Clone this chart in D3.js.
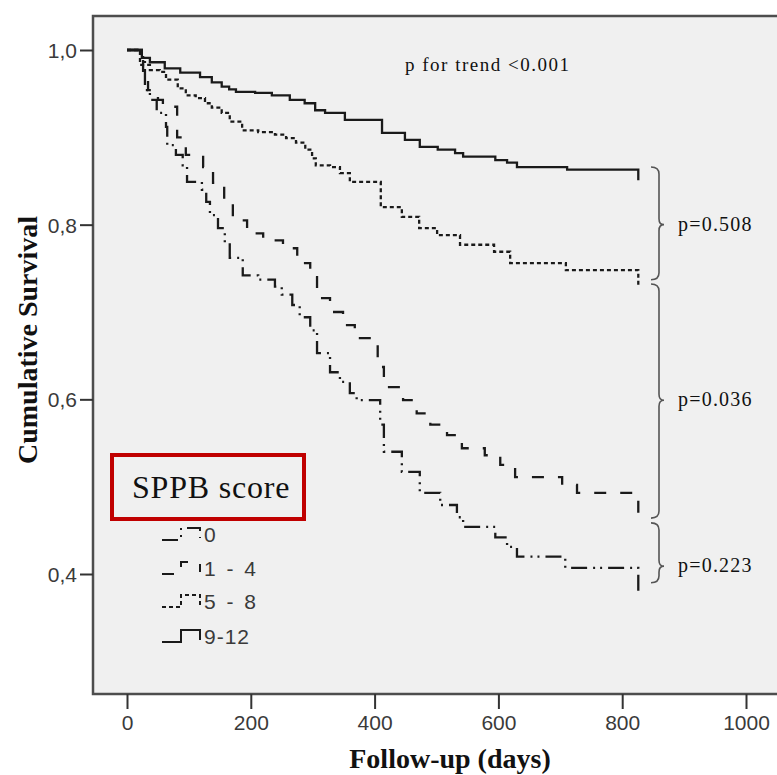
<!DOCTYPE html>
<html>
<head>
<meta charset="utf-8">
<script src="https://cdn.jsdelivr.net/npm/d3@7"></script>
<style>
  body { margin: 0; background: #fff; }
  svg { display: block; }
</style>
</head>
<body>
<svg class="chart" width="777" height="775"></svg>
<script>
// survival steps: [day, cumulative survival]
var sppb0 = [[0,1],[26,0.989],[29,0.954],[37,0.943],[48,0.928],[63,0.912],[65,0.891],[79,0.880],
  [90,0.868],[97,0.849],[121,0.840],[128,0.826],[134,0.811],[147,0.796],[158,0.779],[166,0.762],
  [187,0.742],[212,0.737],[239,0.729],[250,0.720],[267,0.708],[279,0.694],[296,0.679],[307,0.653],
  [328,0.631],[344,0.620],[360,0.607],[371,0.599],[409,0.571],[415,0.540],[444,0.517],[473,0.493],
  [506,0.479],[533,0.465],[543,0.454],[595,0.442],[614,0.431],[630,0.420],[708,0.407],[826,0.378]];
var sppb1to4 = [[0,1],[26,0.966],[34,0.954],[50,0.943],[58,0.935],[81,0.900],[95,0.880],[123,0.866],
  [139,0.848],[157,0.828],[171,0.805],[194,0.790],[220,0.782],[252,0.773],[275,0.756],[296,0.740],
  [307,0.716],[328,0.700],[349,0.685],[368,0.670],[405,0.637],[415,0.614],[446,0.599],[468,0.584],
  [490,0.571],[517,0.559],[541,0.544],[578,0.536],[603,0.525],[627,0.511],[703,0.502],[727,0.493],
  [826,0.464]];
var sppb5to8 = [[0,1],[21,0.983],[37,0.977],[53,0.975],[63,0.966],[82,0.956],[95,0.948],[111,0.945],
  [126,0.939],[137,0.934],[153,0.928],[166,0.918],[186,0.908],[212,0.906],[239,0.903],[257,0.899],
  [273,0.894],[288,0.886],[299,0.876],[305,0.868],[328,0.866],[344,0.859],[360,0.849],[410,0.820],
  [444,0.809],[472,0.796],[501,0.788],[538,0.777],[593,0.769],[619,0.756],[709,0.748],[826,0.731]];
var sppb9to12 = [[0,1],[24,0.991],[37,0.986],[61,0.979],[86,0.974],[118,0.969],[137,0.963],[153,0.958],
  [165,0.955],[176,0.952],[207,0.951],[234,0.948],[263,0.943],[287,0.939],[304,0.931],[320,0.928],
  [352,0.920],[412,0.905],[449,0.897],[473,0.889],[502,0.886],[530,0.882],[543,0.878],[595,0.874],
  [614,0.871],[630,0.866],[711,0.863],[826,0.851]];

var groupNames = ['0', '1 - 4', '5 - 8', '9-12'];
var xTicks = [0, 200, 400, 600, 800, 1000];
var yTicks = [0.4, 0.6, 0.8, 1.0];

// p-value braces: [top, point, bottom] survival values, label
var braceTops = [0.866, 0.732, 0.4585];
var braceMids = [0.800, 0.599, 0.409];
var braceBottoms = [0.737, 0.464, 0.390];
var braceLabels = ['p=0.508', 'p=0.036', 'p=0.223'];

var series = [sppb0, sppb1to4, sppb5to8, sppb9to12];
var dashes = ['16,6,2,5,2,6', '12,14', '4,3', null];

var frame = {left: 93, top: 16, bottom: 694, right: 790};

var xScale = d3.scaleLinear().domain([0, 1000]).range([127, 746]);
var yScale = d3.scaleLinear().domain([0.4, 1.0]).range([574, 50]);

var svg = d3.select('.chart');
var sans = '"Liberation Sans", Arial, sans-serif';
var serif = '"Liberation Serif", "Times New Roman", serif';

// plot area
svg.append('rect')
  .attr('x', frame.left).attr('y', frame.top)
  .attr('width', frame.right - frame.left).attr('height', frame.bottom - frame.top)
  .style('fill', '#f0f0f0')
  .style('stroke', '#4d4d4d')
  .style('stroke-width', 2.5);

// axes
var xAxis = d3.axisBottom(xScale).tickValues(xTicks).tickSize(15).tickSizeOuter(0)
  .tickFormat(d3.format('d'));
var yAxis = d3.axisLeft(yScale).tickValues(yTicks).tickSize(13).tickSizeOuter(0)
  .tickFormat(d => d3.format('.1f')(d).replace('.', ','));

svg.append('g')
  .attr('class', 'x-axis')
  .attr('transform', `translate(0,${frame.bottom})`)
  .call(xAxis)
  .call(g => g.select('.domain').remove())
  .call(g => g.selectAll('line').style('stroke', '#333').style('stroke-width', 2))
  .call(g => g.selectAll('text').attr('y', 21).attr('dy', '0.71em')
    .style('font-family', sans)
    .style('font-size', '21px').style('fill', '#3a3a3a'));

svg.append('g')
  .attr('class', 'y-axis')
  .attr('transform', `translate(${frame.left},0)`)
  .call(yAxis)
  .call(g => g.select('.domain').remove())
  .call(g => g.selectAll('line').style('stroke', '#333').style('stroke-width', 2))
  .call(g => g.selectAll('text').attr('x', -16).attr('dy', '0.36em')
    .style('font-family', sans)
    .style('font-size', '21px').style('fill', '#3a3a3a'));

// survival curves
var line = d3.line()
  .x(d => xScale(d[0]))
  .y(d => yScale(d[1]))
  .curve(d3.curveStepAfter);

svg.append('g')
  .attr('class', 'curves')
  .selectAll('path')
  .data(series)
  .join('path')
  .attr('d', line)
  .style('fill', 'none')
  .style('stroke', '#1a1a1a')
  .style('stroke-width', 2.3)
  .style('stroke-dasharray', (d, i) => dashes[i]);

// annotation text
svg.append('text')
  .attr('x', 405).attr('y', 71)
  .text('p for trend <0.001')
  .style('font-family', serif).style('font-size', '19px')
  .style('letter-spacing', '1.5px').style('fill', '#111');

// braces
function bracePath(x, y0, ym, y1) {
  var s = x + 8, p = x + 13;
  return `M${x},${y0} Q${s},${y0} ${s},${y0 + 7} L${s},${ym - 6} Q${s},${ym} ${p},${ym}` +
    ` Q${s},${ym} ${s},${ym + 6} L${s},${y1 - 7} Q${s},${y1} ${x},${y1}`;
}

var braces = svg.append('g').attr('class', 'braces')
  .selectAll('g')
  .data(braceLabels)
  .join('g');

braces.append('path')
  .attr('d', (d, i) => bracePath(651, yScale(braceTops[i]), yScale(braceMids[i]), yScale(braceBottoms[i])))
  .style('fill', 'none')
  .style('stroke', '#555')
  .style('stroke-width', 1.6);

braces.append('text')
  .attr('x', 678)
  .attr('y', (d, i) => yScale(braceMids[i]) + 6)
  .text(d => d)
  .style('font-family', serif).style('font-size', '20px')
  .style('letter-spacing', '1.2px').style('fill', '#111');

// legend
svg.append('rect')
  .attr('x', 112).attr('y', 455).attr('width', 192).attr('height', 64)
  .style('fill', 'none')
  .style('stroke', '#c00000')
  .style('stroke-width', 4);

svg.append('text')
  .attr('x', 132).attr('y', 498)
  .text('SPPB score')
  .style('font-family', serif).style('font-size', '32px')
  .style('letter-spacing', '0.8px').style('fill', '#111');

var legendBase = [542, 576, 609, 644];
var legendItems = svg.append('g')
  .attr('class', 'legend')
  .selectAll('g')
  .data(groupNames)
  .join('g')
  .attr('transform', (d, i) => `translate(0,${legendBase[i]})`);

legendItems.append('path')
  .attr('d', 'M162,-2 L181,-2 L181,-14 L200,-14 L200,-4')
  .style('fill', 'none')
  .style('stroke', '#1a1a1a')
  .style('stroke-width', 2)
  .style('stroke-dasharray', (d, i) => dashes[i]);

legendItems.append('text')
  .attr('x', 204).attr('y', 0)
  .text(d => d)
  .style('font-family', sans)
  .style('font-size', '21px')
  .style('letter-spacing', '1px').style('word-spacing', '3px')
  .style('fill', '#3a3a3a');

// axis titles
svg.append('text')
  .attr('x', 450).attr('y', 768)
  .attr('text-anchor', 'middle')
  .text('Follow-up (days)')
  .style('font-family', serif).style('font-weight', 'bold')
  .style('font-size', '28px').style('fill', '#111');

svg.append('text')
  .attr('transform', 'translate(37,340) rotate(-90)')
  .attr('text-anchor', 'middle')
  .text('Cumulative Survival')
  .style('font-family', serif).style('font-weight', 'bold')
  .style('font-size', '28px').style('fill', '#111');
</script>
</body>
</html>
